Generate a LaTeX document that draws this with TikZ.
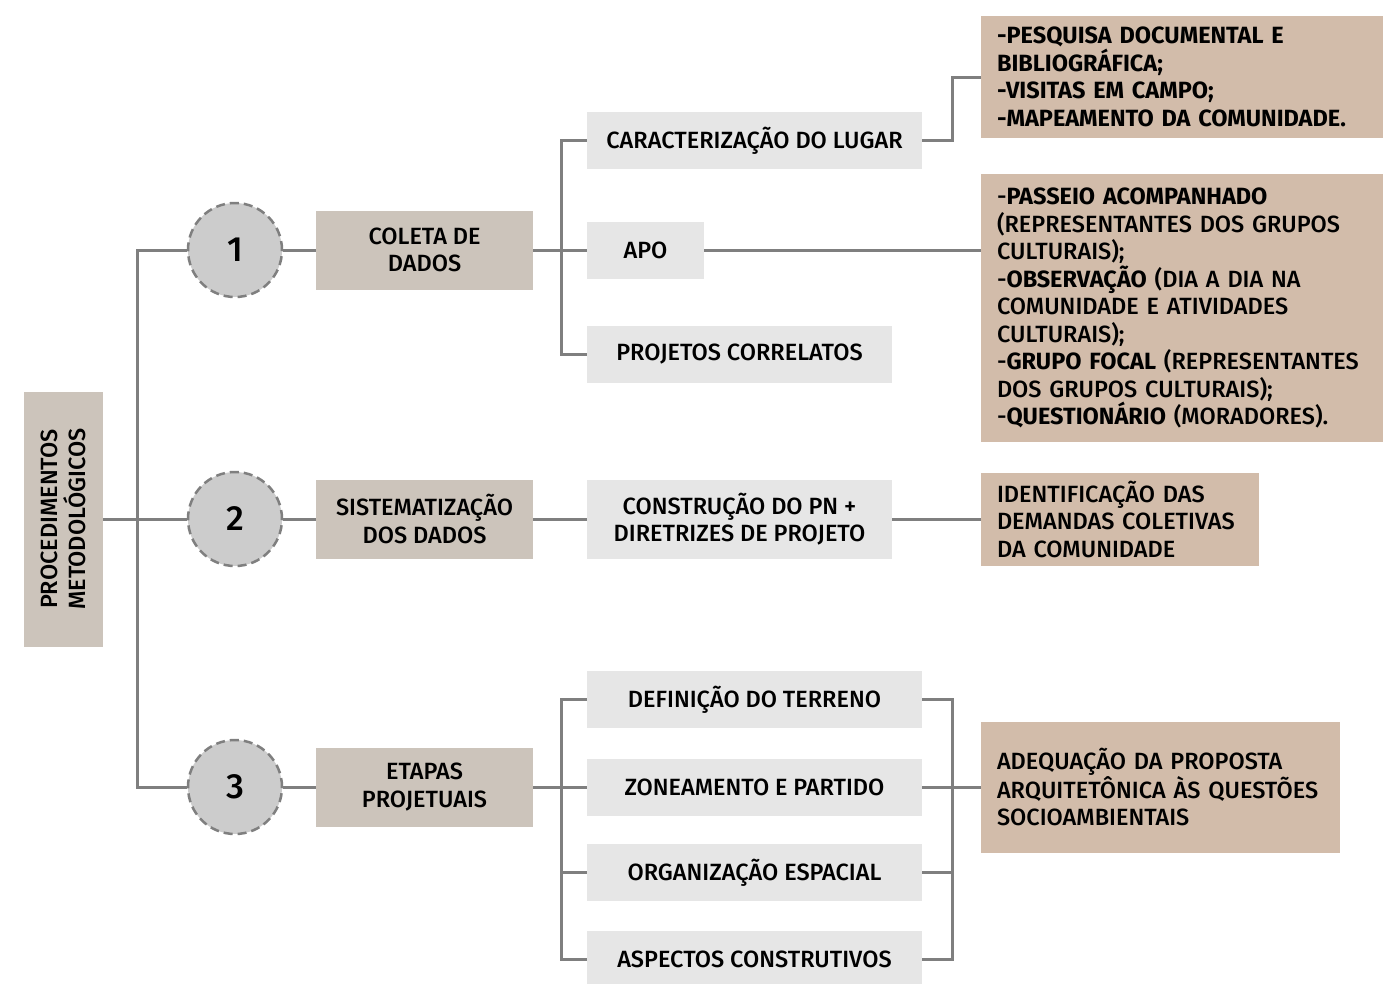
\documentclass[tikz,border=0pt]{standalone}
\usepackage{fontspec}
\setmainfont{Fira Sans Medium}[BoldFont={Fira Sans Bold}]
\usepackage{xcolor}
\usepackage{tikz}
\definecolor{linegray}{HTML}{7F7F7F}
\definecolor{stagebeige}{HTML}{CCC4BB}
\definecolor{notetan}{HTML}{D2BCAA}
\definecolor{itemgray}{HTML}{E6E6E6}
\definecolor{circgray}{HTML}{CCCCCC}
\tikzset{
  stagebox/.style={fill=stagebeige, align=center, inner sep=0pt,
    minimum width=217pt, minimum height=79pt},
  numcirc/.style={circle, fill=circgray, draw=linegray, line width=2.5pt,
    dash pattern=on 9pt off 5pt, minimum size=94pt, inner sep=0pt,
    font=\fontsize{35}{40}\selectfont},
  itembox/.style={fill=itemgray, align=center, inner sep=0pt, minimum height=57pt},
  notebox/.style={fill=notetan, align=left, inner xsep=16pt, inner ysep=0pt},
  link/.style={draw=linegray, line width=3pt}
}

\begin{document}
\begin{tikzpicture}[x=1pt, y=-1pt, font=\fontsize{23.5}{27.5}\selectfont]
\useasboundingbox (0,0) rectangle (1383,983);
\node[stagebox, rotate=90, minimum width=255pt, minimum height=79pt] at (63.5, 519) (proc) {PROCEDIMENTOS\\METODOLÓGICOS};
\node[numcirc] at (235, 250) (n1) {1};
\node[numcirc] at (235, 519) (n2) {2};
\node[numcirc] at (235, 787) (n3) {3};
\node[stagebox] at (424.5, 250) (coleta) {COLETA DE\\DADOS};
\node[stagebox] at (424.5, 519) (sistem) {SISTEMATIZAÇÃO\\DOS DADOS};
\node[stagebox] at (424.5, 787) (etapas) {ETAPAS\\PROJETUAIS};
\node[itembox, minimum width=335pt] at (754.5, 140.5) (lugar) {CARACTERIZAÇÃO DO LUGAR};
\node[itembox, minimum width=117pt] at (645.5, 250) (apo) {APO};
\node[itembox, minimum width=305pt] at (739.5, 354.5) (correl) {PROJETOS CORRELATOS};
\node[itembox, minimum width=305pt, minimum height=79pt] at (739.5, 519) (constr) {CONSTRUÇÃO DO PN +\\DIRETRIZES DE PROJETO};
\node[itembox, minimum width=335pt] at (754.5, 699.5) (terreno) {DEFINIÇÃO DO TERRENO};
\node[itembox, minimum width=335pt] at (754.5, 787) (zoneam) {ZONEAMENTO E PARTIDO};
\node[itembox, minimum width=335pt] at (754.5, 872.5) (organiz) {ORGANIZAÇÃO ESPACIAL};
\node[itembox, minimum width=335pt] at (754.5, 959.5) (aspect) {ASPECTOS CONSTRUTIVOS};
\node[notebox, text width=370pt, minimum height=122pt] at (1182, 77) (pesquisa) {\textbf{-PESQUISA DOCUMENTAL E}\\\textbf{BIBLIOGRÁFICA;}\\\textbf{-VISITAS EM CAMPO;}\\\textbf{-MAPEAMENTO DA COMUNIDADE.}};
\node[notebox, text width=370pt, minimum height=268pt] at (1182, 308) (passeio) {-\textbf{PASSEIO ACOMPANHADO}\\(REPRESENTANTES DOS GRUPOS\\CULTURAIS);\\-\textbf{OBSERVAÇÃO} (DIA A DIA NA\\COMUNIDADE E ATIVIDADES\\CULTURAIS);\\-\textbf{GRUPO FOCAL} (REPRESENTANTES\\DOS GRUPOS CULTURAIS);\\-\textbf{QUESTIONÁRIO} (MORADORES).};
\node[notebox, text width=246pt, minimum height=93pt] at (1120, 519) (demandas) {IDENTIFICAÇÃO DAS\\DEMANDAS COLETIVAS\\DA COMUNIDADE};
\node[notebox, text width=327pt, minimum height=131pt] at (1160.5, 787) (adequa) {ADEQUAÇÃO DA PROPOSTA\\ARQUITETÔNICA ÀS QUESTÕES\\SOCIOAMBIENTAIS};
\coordinate (trunk) at (137, 519);
\coordinate (fork) at (561, 0);
\coordinate (join) at (952, 0);
% tronco
\draw[link] (proc.south) -- (n2.west);
\draw[link] (n1.west) -- (n1.west -| trunk) -- (n3.west -| trunk) -- (n3.west);
\draw[link] (n1) -- (coleta);
\draw[link] (n2) -- (sistem);
\draw[link] (n3) -- (etapas);
% coleta de dados
\draw[link] (coleta.east) -- (apo.west);
\draw[link] (lugar.west) -- (lugar.west -| fork) -- (correl.west -| fork) -- (correl.west);
\draw[link] (lugar.east) -- (lugar.east -| join) |- (pesquisa.west);
\draw[link] (apo.east) -- (apo.east -| passeio.west);
% sistematizacao
\draw[link] (sistem.east) -- (constr.west);
\draw[link] (constr.east) -- (demandas.west);
% etapas projetuais
\draw[link] (etapas.east) -- (zoneam.west);
\draw[link] (terreno.west) -- (terreno.west -| fork) -- (aspect.west -| fork) -- (aspect.west);
\draw[link] (organiz.west) -- (organiz.west -| fork);
\draw[link] (terreno.east) -- (terreno.east -| join) -- (aspect.east -| join) -- (aspect.east);
\draw[link] (organiz.east) -- (organiz.east -| join);
\draw[link] (zoneam.east) -- (adequa.west);
\end{tikzpicture}
\end{document}
